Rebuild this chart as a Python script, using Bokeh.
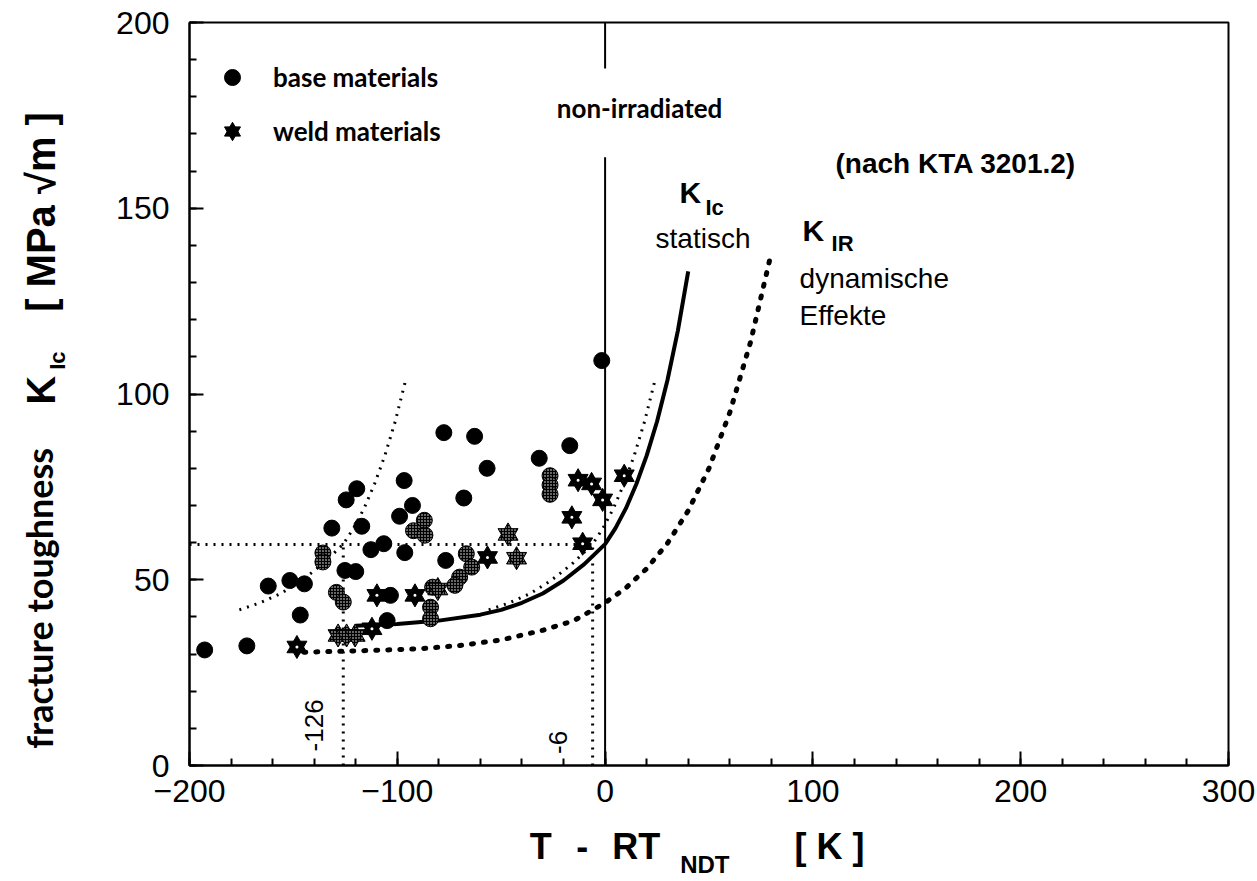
from math import pi

from bokeh.plotting import figure
from bokeh.models import (Range1d, SingleIntervalTicker, FixedTicker, LinearAxis,
                          Label, Legend, LegendItem)
from bokeh.embed import file_html
from bokeh.resources import INLINE

# ---- measured fracture toughness, T - RT_NDT [K] against K_Ic [MPa sqrt(m)] ----
base_T = [-192.7, -172.4, -162.1, -151.7, -144.7, -146.7, -131.5, -125.2, -120.0,
          -124.6, -119.5, -117.1, -112.7, -106.5, -104.9, -103.3, -96.7, -92.7,
          -98.9, -96.4, -77.6, -62.8, -56.8, -68.0, -76.7, -31.7, -17.0, -1.6]
base_K = [31.1, 32.2, 48.3, 49.8, 48.9, 40.5, 63.9, 52.5, 52.2,
          71.5, 74.5, 64.4, 58.1, 59.7, 39.0, 45.8, 76.7, 70.0,
          67.1, 57.3, 89.6, 88.6, 80.0, 72.0, 55.2, 82.7, 86.1, 109.0]

base_dot_T = [-135.8, -135.8, -129.3, -126.0, -87.0, -92.2, -86.7, -66.8, -64.2,
              -70.0, -72.3, -83.0, -84.0, -84.0, -26.5, -26.5, -26.5]
base_dot_K = [57.2, 54.8, 46.6, 44.0, 66.0, 63.2, 62.0, 57.0, 53.4,
              50.7, 48.5, 48.0, 42.6, 39.5, 78.0, 75.5, 73.0]

weld_T = [-148.3, -112.2, -109.8, -91.5, -56.6, -13.0, -6.5, 9.2, -16.0, -10.8, -1.2]
weld_K = [31.9, 36.8, 45.8, 45.8, 56.0, 76.8, 75.8, 78.0, 66.8, 59.7, 71.5]

weld_dot_T = [-128.5, -124.4, -120.3, -46.7, -42.6, -80.5]
weld_dot_K = [35.0, 35.0, 35.0, 62.2, 55.8, 47.5]

# ---- KTA 3201.2 reference curves ----
kic_T = [-120, -100, -80, -60, -50, -40, -30, -20, -10, 0, 5, 10, 15, 20, 25, 30, 35, 40]
kic_K = [37.6, 38.1, 39.0, 40.6, 41.9, 43.8, 46.3, 49.8, 54.2, 59.6, 63.9, 69.2,
         75.7, 83.4, 92.6, 103.7, 117.0, 133.0]

kir_T = [-145, -130, -110, -90, -70, -50, -30, -15, 0, 10, 20, 30, 40, 50, 60, 70, 80]
kir_K = [30.5, 30.7, 31.0, 31.4, 32.3, 33.8, 36.4, 39.0, 43.8, 47.8, 53.0, 59.8,
         68.6, 80.0, 95.0, 114.0, 138.0]

# RT_NDT offsets and the toughness level they are read at
shift_T = [-126, -6]
ref_K = 59.5
# the K_Ic segment that is moved by each offset
seg_T = [t for t in kic_T if -50 <= t <= 30]
seg_K = [k for t, k in zip(kic_T, kic_K) if -50 <= t <= 30]

# axis titles: pieces and where they sit along their axis
ytitle_sub = {109: "Ic"}
ytitle_main = {101: "K", 149: "[ MPa \u221am ]"}
ytitle_text = {45: "fracture toughness"}
xtitle_main = {-31: "T", -11: "-", 15: "RT", 108: "[ K ]"}
xtitle_sub = {48: "NDT"}

p = figure(width=1257, height=881,
           x_range=Range1d(-200, 300), y_range=Range1d(0, 200),
           output_backend="svg", toolbar_location=None,
           min_border_left=189, min_border_right=29,
           min_border_top=22, min_border_bottom=116)
p.grid.visible = False
p.outline_line_color = "black"
p.outline_line_width = 2
p.background_fill_color = "white"
p.border_fill_color = "white"

for ax in (p.xaxis[0], p.yaxis[0]):
    ax.axis_line_width = 2
    ax.axis_line_color = "black"
    ax.major_tick_in = 14
    ax.major_tick_out = 0
    ax.major_tick_line_width = 2
    ax.minor_tick_in = 7
    ax.minor_tick_out = 0
    ax.minor_tick_line_width = 2
    ax.major_label_text_font = "Liberation Sans"
    ax.major_label_text_font_size = "32px"
    ax.major_label_text_color = "black"
p.xaxis.ticker = SingleIntervalTicker(interval=100, num_minor_ticks=5)
p.yaxis.ticker = SingleIntervalTicker(interval=50, num_minor_ticks=5)
p.xaxis.major_label_standoff = 14
p.yaxis.major_label_standoff = 20


def title_axis(side, parts, size, standoff, font="Liberation Sans"):
    """A bare axis whose only content is a piece of the axis title."""
    ticks = list(parts.keys())
    ax = LinearAxis(ticker=FixedTicker(ticks=ticks, minor_ticks=[]),
                    major_label_overrides={t: s for t, s in parts.items()},
                    axis_line_color=None, major_tick_line_color=None,
                    minor_tick_line_color=None, major_tick_in=0, major_tick_out=0,
                    minor_tick_in=0, minor_tick_out=0,
                    major_label_text_font=font, major_label_text_font_style="bold",
                    major_label_text_font_size=size, major_label_text_color="black",
                    major_label_standoff=standoff)
    if side == "left":
        ax.major_label_orientation = "parallel"
    p.add_layout(ax, side)


# y title, stacked outwards from the tick labels
title_axis("left", ytitle_sub, "22px", 43)
title_axis("left", ytitle_main, "40px", -21)
title_axis("left", ytitle_text, "36px", -45, font="Lato")
# x title: the subscript row first, the main row pulled back up above it
title_axis("below", xtitle_sub, "24px", 46)
title_axis("below", xtitle_main, "36px", -55)

# T - RT_NDT = 0, interrupted behind its caption
p.segment(x0=[0, 0], y0=[0, 187.6], x1=[0, 0], y1=[163.7, 200],
          line_color="black", line_width=2)

# reference level and the two offsets
thin = dict(line_color="black", line_width=3, line_dash="2 6")
p.line([-200, shift_T[1]], [ref_K, ref_K], **thin)
for s in shift_T:
    p.line([s, s], [0, ref_K], **thin)
    p.line([t + s for t in seg_T], seg_K, **thin)

# K_IR (dynamic) and K_Ic (static)
p.line(kir_T, kir_K, line_color="black", line_width=5, line_dash="2 10", line_cap="round")
p.line(kic_T, kic_K, line_color="black", line_width=4)

# measured points; the stippled ones are drawn with a fine white dot hatch
stipple = dict(hatch_pattern="dot", hatch_color="white", hatch_scale=3, hatch_weight=1)
r_base = p.scatter(base_T, base_K, marker="circle", size=16,
                   fill_color="black", line_color="black")
p.scatter(base_dot_T, base_dot_K, marker="circle", size=16,
          fill_color="black", line_color="black", **stipple)

r_w1 = p.scatter(weld_T, weld_K, marker="triangle", size=20,
                 fill_color="black", line_color="black")
r_w2 = p.scatter(weld_T, weld_K, marker="inverted_triangle", size=20,
                 fill_color="black", line_color="black")
p.scatter(weld_T, weld_K, marker="circle", size=3, fill_color="white", line_color=None)
for m in ("triangle", "inverted_triangle"):
    p.scatter(weld_dot_T, weld_dot_K, marker=m, size=20, fill_color="black",
              line_color="black", **stipple)

legend = Legend(items=[LegendItem(label="base materials", renderers=[r_base]),
                       LegendItem(label="weld materials", renderers=[r_w1, r_w2])],
                location=(13, 604), margin=0, padding=10, spacing=14,
                glyph_width=40, glyph_height=40, label_height=40, label_standoff=21,
                label_text_font="Lato", label_text_font_style="bold",
                label_text_font_size="26px", label_text_color="black",
                border_line_alpha=0, background_fill_alpha=0)
p.add_layout(legend)


def label(x, y, text, size, font="Liberation Sans", style="normal",
          align="left", angle=0.0):
    p.add_layout(Label(x=x, y=y, text=text, text_font=font, text_font_style=style,
                       text_font_size=size, text_align=align, text_baseline="middle",
                       text_color="black", angle=angle))


label(16.6, 177.1, "non-irradiated", "26px", font="Lato", style="bold", align="center")
label(110.9, 162.0, "(nach KTA 3201.2)", "28px", style="bold")
label(35.8, 154.2, "K", "30px", style="bold")
label(48.3, 150.2, "Ic", "22px", style="bold")
label(24.3, 141.9, "statisch", "28px")
label(95.0, 144.0, "K", "30px", style="bold")
label(109.0, 140.5, "IR", "22px", style="bold")
label(93.6, 131.1, "dynamische", "28px")
label(93.6, 121.1, "Effekte", "28px")
label(-140.1, 10.8, str(shift_T[0]), "26px", align="center", angle=pi / 2)
label(-22.9, 6.2, str(shift_T[1]), "26px", align="center", angle=pi / 2)

open("out.html", "w").write(file_html(p, INLINE))
